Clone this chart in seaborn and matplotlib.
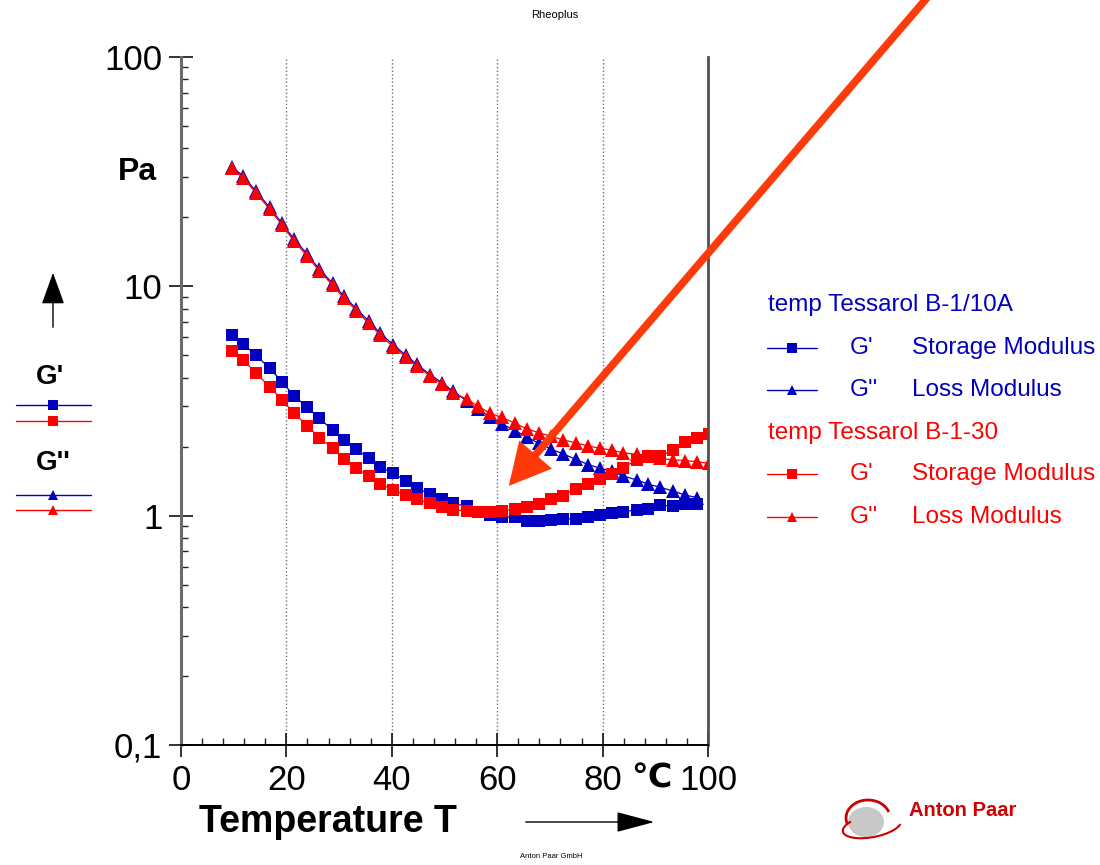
import matplotlib
matplotlib.use("Agg")
import matplotlib.pyplot as plt
from matplotlib.lines import Line2D
from matplotlib.patches import FancyArrowPatch, Ellipse, Arc
from matplotlib.ticker import FixedLocator, FixedFormatter, LogLocator, NullFormatter, MultipleLocator
import seaborn as sns
import pandas as pd

sns.set_style("white")
plt.rcParams['font.family'] = ['Liberation Sans', 'DejaVu Sans']
plt.rcParams['text.color'] = 'black'
plt.rcParams['xtick.color'] = 'black'
plt.rcParams['ytick.color'] = 'black'

# ---------------- data ----------------
temperature = [9.6, 11.8, 14.2, 16.8, 19.2, 21.4, 24.0, 26.2, 28.8, 30.9,
               33.3, 35.6, 37.8, 40.3, 42.6, 44.7, 47.3, 49.5, 51.7, 54.2,
               56.4, 58.6, 60.9, 63.4, 65.6, 67.9, 70.2, 72.5, 74.9, 77.3,
               79.5, 81.7, 83.9, 86.5, 88.7, 90.9, 93.4, 95.6, 97.9, 100.1]

# sample B-1/10A (blue), 39 points
blue_storage = [6.13, 5.60, 5.02, 4.39, 3.84, 3.33, 2.97, 2.66, 2.36, 2.14,
                1.95, 1.78, 1.63, 1.53, 1.42, 1.32, 1.24, 1.18, 1.13, 1.10,
                1.04, 1.006, 0.983, 0.989, 0.950, 0.950, 0.957, 0.964, 0.971, 0.983,
                1.009, 1.030, 1.040, 1.061, 1.074, 1.112, 1.101, 1.123, 1.123]
blue_loss = [33.3, 30.2, 26.1, 22.1, 18.8, 16.1, 13.8, 11.9, 10.3, 9.05,
             7.98, 7.05, 6.25, 5.56, 5.02, 4.57, 4.12, 3.80, 3.48, 3.17,
             2.91, 2.69, 2.51, 2.35, 2.20, 2.07, 1.95, 1.86, 1.76, 1.67,
             1.61, 1.56, 1.49, 1.43, 1.37, 1.33, 1.28, 1.23, 1.20]

# sample B-1-30 (red), 40 points
red_storage = [5.24, 4.77, 4.20, 3.65, 3.19, 2.81, 2.46, 2.19, 1.97, 1.77,
               1.61, 1.49, 1.38, 1.29, 1.23, 1.18, 1.13, 1.09, 1.058, 1.050,
               1.040, 1.034, 1.050, 1.065, 1.093, 1.123, 1.181, 1.224, 1.313, 1.373,
               1.440, 1.523, 1.621, 1.753, 1.819, 1.819, 1.927, 2.101, 2.180, 2.269]
red_loss = [32.7, 29.6, 25.6, 21.7, 18.5, 15.8, 13.5, 11.7, 10.1, 8.87,
            7.83, 6.90, 6.13, 5.45, 4.93, 4.49, 4.06, 3.75, 3.44, 3.22,
            3.00, 2.80, 2.68, 2.53, 2.39, 2.30, 2.22, 2.14, 2.08, 2.01,
            1.97, 1.93, 1.88, 1.85, 1.82, 1.78, 1.75, 1.74, 1.72, 1.69]

y_ticks = [0.1, 1, 10, 100]
y_tick_labels = ["0,1", "1", "10", "100"]
x_ticks = [0, 20, 40, 60, 80, 100]
x_tick_labels = ["0", "20", "40", "60", "80", "100"]

sample_names = ["temp Tessarol B-1/10A", "temp Tessarol B-1-30"]

BLUE = "#0000C0"
RED = "#FF0000"

W, H = 1100, 865
def fx(px):
    return px / W
def fy(py):
    return 1 - py / H

fig = plt.figure(figsize=(11, 8.65), dpi=100)
ax = fig.add_axes([fx(181), fy(745), (708 - 181) / W, (745 - 57) / H])
ax.set_yscale("log")

n_blue = len(blue_storage)
df_bs = pd.DataFrame({"T": temperature[:n_blue], "v": blue_storage})
df_bl = pd.DataFrame({"T": temperature[:n_blue], "v": blue_loss})
df_rs = pd.DataFrame({"T": temperature, "v": red_storage})
df_rl = pd.DataFrame({"T": temperature, "v": red_loss})

common = dict(ax=ax, linewidth=0.9, markeredgewidth=0, legend=False)
sns.lineplot(data=df_bs, x="T", y="v", color=BLUE, marker="s", markersize=8.8, **common)
sns.lineplot(data=df_bl, x="T", y="v", color=BLUE, marker="^", markersize=10, **common)
sns.lineplot(data=df_rs, x="T", y="v", color=RED, marker="s", markersize=8.8, **common)
sns.lineplot(data=df_rl, x="T", y="v", color=RED, marker="^", markersize=10, **common)

ax.set_xlim(0, 100)
ax.set_ylim(0.1, 100)
ax.set_xlabel("")
ax.set_ylabel("")

ax.xaxis.set_major_locator(FixedLocator(x_ticks))
ax.xaxis.set_major_formatter(FixedFormatter(x_tick_labels))
ax.xaxis.set_minor_locator(MultipleLocator(4))
ax.yaxis.set_major_locator(FixedLocator(y_ticks))
ax.yaxis.set_major_formatter(FixedFormatter(y_tick_labels))
ax.yaxis.set_minor_locator(LogLocator(base=10, subs=[2, 3, 4, 5, 6, 7, 8, 9]))
ax.yaxis.set_minor_formatter(NullFormatter())

ax.tick_params(axis="both", which="major", direction="inout", length=17, width=1.3,
               color="#222222", pad=5, labelsize=25, labelcolor="black")
ax.tick_params(axis="both", which="minor", direction="in", length=5, width=1.0, color="#222222")
ax.tick_params(axis="y", which="both", left=True, right=False)
ax.tick_params(axis="x", which="both", bottom=True, top=False)

ax.grid(axis="x", which="major", linestyle=":", color="#707070", linewidth=1.0)
ax.grid(axis="y", visible=False)
ax.set_axisbelow(True)

ax.spines["top"].set_visible(False)
ax.spines["left"].set_color("#6a6a6a")
ax.spines["left"].set_linewidth(2.2)
ax.spines["right"].set_color("#505050")
ax.spines["right"].set_linewidth(2.0)
ax.spines["bottom"].set_color("black")
ax.spines["bottom"].set_linewidth(1.4)

# degree sign label between 80 and 100
fig.text(fx(651), fy(778), "\u2103", fontsize=24, fontweight="bold", ha="center", va="center",
         family=["DejaVu Sans"])

# axis titles
fig.text(fx(328), fy(822), "Temperature T", fontsize=27, fontweight="bold", ha="center", va="center")
fig.text(fx(137), fy(172), "Pa", fontsize=23, fontweight="bold", ha="center", va="center")

# small texts
fig.text(fx(555), fy(15), "Rheoplus", fontsize=8, ha="center", va="center")
fig.text(fx(551), fy(857), "Anton Paar GmbH", fontsize=5.5, ha="center", va="center")

# arrows
fig.patches.append(FancyArrowPatch((fx(523), fy(822)), (fx(657), fy(822)), transform=fig.transFigure,
                                   arrowstyle="-|>,head_length=1.2,head_width=0.32", mutation_scale=20,
                                   color="black", lw=1.0))
fig.patches.append(FancyArrowPatch((fx(53), fy(330)), (fx(53), fy(270)), transform=fig.transFigure,
                                   arrowstyle="-|>,head_length=1.0,head_width=0.36", mutation_scale=20,
                                   color="black", lw=1.0))
fig.patches.append(FancyArrowPatch((fx(932), fy(-8)), (fx(507), fy(488)), transform=fig.transFigure,
                                   arrowstyle="-|>,head_length=1.05,head_width=0.55", mutation_scale=20,
                                   color="#FF3A0A", lw=5.5, joinstyle="miter"))

# left legend (G', G'')
fig.text(fx(50), fy(377), "G'", fontsize=20, fontweight="bold", ha="center", va="center")
fig.text(fx(53), fy(463), "G''", fontsize=20, fontweight="bold", ha="center", va="center")
left_rows = [(405, BLUE, "s"), (421, RED, "s"), (495, BLUE, "^"), (510, RED, "^")]
for py, col, mk in left_rows:
    fig.add_artist(Line2D([fx(16), fx(91)], [fy(py), fy(py)], transform=fig.transFigure,
                          color=col, lw=1.0))
    fig.add_artist(Line2D([fx(53)], [fy(py)], transform=fig.transFigure, color=col,
                          marker=mk, markersize=7.5, markeredgewidth=0, linestyle="none"))

# right legend
fig.text(fx(768), fy(305), sample_names[0], fontsize=17.5, color=BLUE, ha="left", va="center")
fig.text(fx(768), fy(433), sample_names[1], fontsize=17.5, color=RED, ha="left", va="center")
right_rows = [(348, BLUE, "s", "G'", "Storage Modulus"),
              (390, BLUE, "^", "G''", "Loss Modulus"),
              (474, RED, "s", "G'", "Storage Modulus"),
              (517, RED, "^", "G''", "Loss Modulus")]
for py, col, mk, sym, name in right_rows:
    fig.add_artist(Line2D([fx(767), fx(817)], [fy(py), fy(py)], transform=fig.transFigure,
                          color=col, lw=1.0))
    fig.add_artist(Line2D([fx(792)], [fy(py)], transform=fig.transFigure, color=col,
                          marker=mk, markersize=6.5, markeredgewidth=0, linestyle="none"))
    fig.text(fx(850), fy(py), sym, fontsize=17.5, color=col, ha="left", va="center")
    fig.text(fx(912), fy(py), name, fontsize=17.5, color=col, ha="left", va="center")

# Anton Paar logo
fig.patches.append(Ellipse((fx(866), fy(822)), 36 / W, 30 / H, transform=fig.transFigure,
                           facecolor="#c8c8c8", edgecolor="none"))
fig.patches.append(Arc((fx(868), fy(818)), 44 / W, 36 / H, transform=fig.transFigure,
                       theta1=20, theta2=200, color="#CC0000", lw=2))
fig.patches.append(Arc((fx(872), fy(826)), 60 / W, 22 / H, transform=fig.transFigure,
                       theta1=150, theta2=350, angle=15, color="#CC0000", lw=1.5))
fig.text(fx(963), fy(811), "Anton Paar", fontsize=14.5, fontweight="bold", color="#D00000",
         ha="center", va="center")

fig.savefig("out.png", dpi=100)
